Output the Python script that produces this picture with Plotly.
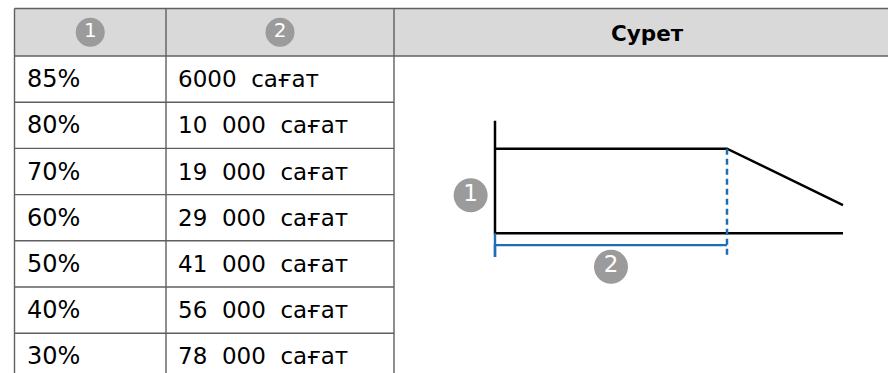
import plotly.graph_objects as go

# ---- data ----
brightness = ["85%", "80%", "70%", "60%", "50%", "40%", "30%"]
hours = ["6000  сағат", "10  000  сағат", "19  000  сағат", "29  000  сағат",
         "41  000  сағат", "56  000  сағат", "78  000  сағат"]
header_title = "Сурет"
marker_labels = ["1", "2"]

# schematic curve: time (relative) vs brightness (relative)
curve_t = [0, 2, 3]
curve_b = [1, 1, 1 / 3]

W, H = 888, 373
FONT = "DejaVu Sans"
GRID = "#5f5f5f"
BLUE = "#1f6db4"
GRAY = "#9b9b9b"

# table geometry (pixels)
x_left, x_c1, x_c2, x_right = 14.5, 166, 394, 900
y_top, y_head = 8.5, 56
row_h = 46.2

fig = go.Figure()

shapes = []
# header fill
shapes.append(dict(type="rect", xref="x", yref="y", x0=x_left, x1=x_right, y0=y_top, y1=y_head,
                   fillcolor="#d9d9d9", line=dict(width=0), layer="below"))
# header borders
for yy in (y_top, y_head):
    shapes.append(dict(type="line", xref="x", yref="y", x0=x_left, x1=x_right, y0=yy, y1=yy,
                       line=dict(color=GRID, width=1.6)))
# row separators (cols 1-2 only)
for i in range(1, len(brightness)):
    yy = y_head + i * row_h
    shapes.append(dict(type="line", xref="x", yref="y", x0=x_left, x1=x_c2, y0=yy, y1=yy,
                       line=dict(color=GRID, width=1.4)))
# vertical lines
for xx in (x_left, x_c1, x_c2):
    shapes.append(dict(type="line", xref="x", yref="y", x0=xx, x1=xx, y0=y_top, y1=H + 5,
                       line=dict(color=GRID, width=1.4)))

annotations = []
for i, (b, h) in enumerate(zip(brightness, hours)):
    yc = y_head + (i + 0.5) * row_h
    annotations.append(dict(xref="x", yref="y", x=x_left + 10, y=yc, text=b, showarrow=False,
                            xanchor="left", yanchor="middle",
                            font=dict(family=FONT, size=24, color="black")))
    annotations.append(dict(xref="x", yref="y", x=x_c1 + 10, y=yc, text=h.replace(" ", "\u00a0"),
                            showarrow=False, xanchor="left", yanchor="middle",
                            font=dict(family=FONT, size=23, color="black")))
annotations.append(dict(xref="x", yref="y", x=647, y=(y_top + y_head) / 2 + 1, text="<b>" + header_title + "</b>",
                        showarrow=False, xanchor="center", yanchor="middle",
                        font=dict(family=FONT, size=21.5, color="black")))

# header circled numbers
fig.add_trace(go.Scatter(
    x=[(x_left + x_c1) / 2, (x_c1 + x_c2) / 2], y=[(y_top + y_head) / 2] * 2,
    xaxis="x", yaxis="y", mode="markers+text", text=marker_labels,
    textposition="middle center",
    textfont=dict(family=FONT, size=20, color="white"),
    marker=dict(size=29, color=GRAY, line=dict(width=0)),
    hoverinfo="skip", showlegend=False))

# ---- schematic diagram on x2/y2 ----
# axes
fig.add_trace(go.Scatter(x=[0, 0, 3], y=[1.33, 0, 0], xaxis="x2", yaxis="y2", mode="lines",
                         line=dict(color="black", width=2.5), hoverinfo="skip", showlegend=False))
# brightness curve
fig.add_trace(go.Scatter(x=curve_t, y=curve_b, xaxis="x2", yaxis="y2", mode="lines",
                         line=dict(color="black", width=2.5), hoverinfo="skip", showlegend=False))
# dashed knee marker
fig.add_trace(go.Scatter(x=[curve_t[1], curve_t[1]], y=[curve_b[1], -0.28], xaxis="x2", yaxis="y2",
                         mode="lines", line=dict(color=BLUE, width=2.5, dash="6px,4px"),
                         hoverinfo="skip", showlegend=False))
# bracket
fig.add_trace(go.Scatter(x=[0, 0, curve_t[1]], y=[-0.28, -0.14, -0.14], xaxis="x2", yaxis="y2",
                         mode="lines", line=dict(color=BLUE, width=2.4),
                         hoverinfo="skip", showlegend=False))
fig.add_trace(go.Scatter(x=[0, 0], y=[0, -0.28], xaxis="x2", yaxis="y2",
                         mode="lines", line=dict(color=BLUE, width=2.4),
                         hoverinfo="skip", showlegend=False))
# circled labels
fig.add_trace(go.Scatter(
    x=[-0.21, curve_t[1] / 2], y=[0.45, -0.395], xaxis="x2", yaxis="y2",
    mode="markers+text", text=marker_labels, textposition="middle center",
    textfont=dict(family=FONT, size=23, color="white"),
    marker=dict(size=34, color=GRAY, line=dict(width=0)),
    hoverinfo="skip", showlegend=False))

hidden = dict(visible=False, showgrid=False, zeroline=False, fixedrange=True)
fig.update_layout(
    width=W, height=H,
    margin=dict(l=0, r=0, t=0, b=0),
    paper_bgcolor="white", plot_bgcolor="rgba(0,0,0,0)",
    xaxis=dict(range=[0, W], domain=[0, 1], **hidden),
    yaxis=dict(range=[H, 0], domain=[0, 1], **hidden),
    xaxis2=dict(range=[-0.5, 3.2], domain=[437 / W, 866.2 / W], anchor="y2", **hidden),
    yaxis2=dict(range=[-1, 1.5], domain=[1 - 317.9 / H, 1 - 106.4 / H], anchor="x2", **hidden),
    shapes=shapes, annotations=annotations,
)

fig.write_html("out.html", config={"displayModeBar": False},
               post_script="document.body.style.margin='0';document.body.style.overflow='hidden';")
